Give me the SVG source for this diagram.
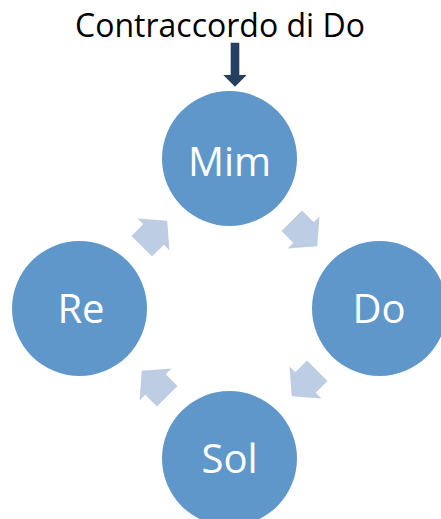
<svg xmlns="http://www.w3.org/2000/svg" width="441" height="519" viewBox="0 0 441 519">
  <style>
    .node { fill: #6097ca; }
    .label { fill: #ffffff; font-family: "Open Sans", "Noto Sans", "Liberation Sans", sans-serif; font-size: 40px; text-anchor: middle; }
    .title { fill: #000000; font-family: "Open Sans", "Noto Sans", "Liberation Sans", sans-serif; font-size: 32px; text-anchor: middle; }
    .cycle { fill: #bdcde4; }
    .pointer { fill: #243f60; }
  </style>
  <defs>
    <!-- block arrow pointing along +x, centred on the origin -->
    <path id="block-arrow" d="M-18,-14.5 H-1.4 V-22.6 L18,0 L-1.4,22.6 V14.5 H-18 Z"/>
  </defs>

  <rect width="441" height="519" fill="#ffffff"/>

  <g id="title">
    <text class="title" x="220" y="37">Contraccordo di Do</text>
  </g>

  <g id="connectors">
    <!-- heavy down arrow from the title into Mim -->
    <path class="pointer" d="M230.7,42.7 H239.3 V75 H246.7 L235,86.7 L223.3,75 H230.7 Z"/>
    <!-- cycle arrows, clockwise -->
    <use class="cycle" href="#block-arrow" transform="translate(304.5,233.5) rotate(45)"/>
    <use class="cycle" href="#block-arrow" transform="translate(304.5,383.5) rotate(135)"/>
    <use class="cycle" href="#block-arrow" transform="translate(154.5,383.5) rotate(225)"/>
    <use class="cycle" href="#block-arrow" transform="translate(154.5,233.5) rotate(315)"/>
  </g>

  <g id="node-mim">
    <circle class="node" cx="229.5" cy="158.5" r="67.5"/>
    <text class="label" x="229.5" y="176">Mim</text>
  </g>
  <g id="node-do">
    <circle class="node" cx="379.5" cy="308.5" r="67.5"/>
    <text class="label" x="379" y="323">Do</text>
  </g>
  <g id="node-sol">
    <circle class="node" cx="229.5" cy="458.5" r="67.5"/>
    <text class="label" x="229.5" y="473">Sol</text>
  </g>
  <g id="node-re">
    <circle class="node" cx="79.5" cy="308.5" r="67.5"/>
    <text class="label" x="81" y="323">Re</text>
  </g>
</svg>
